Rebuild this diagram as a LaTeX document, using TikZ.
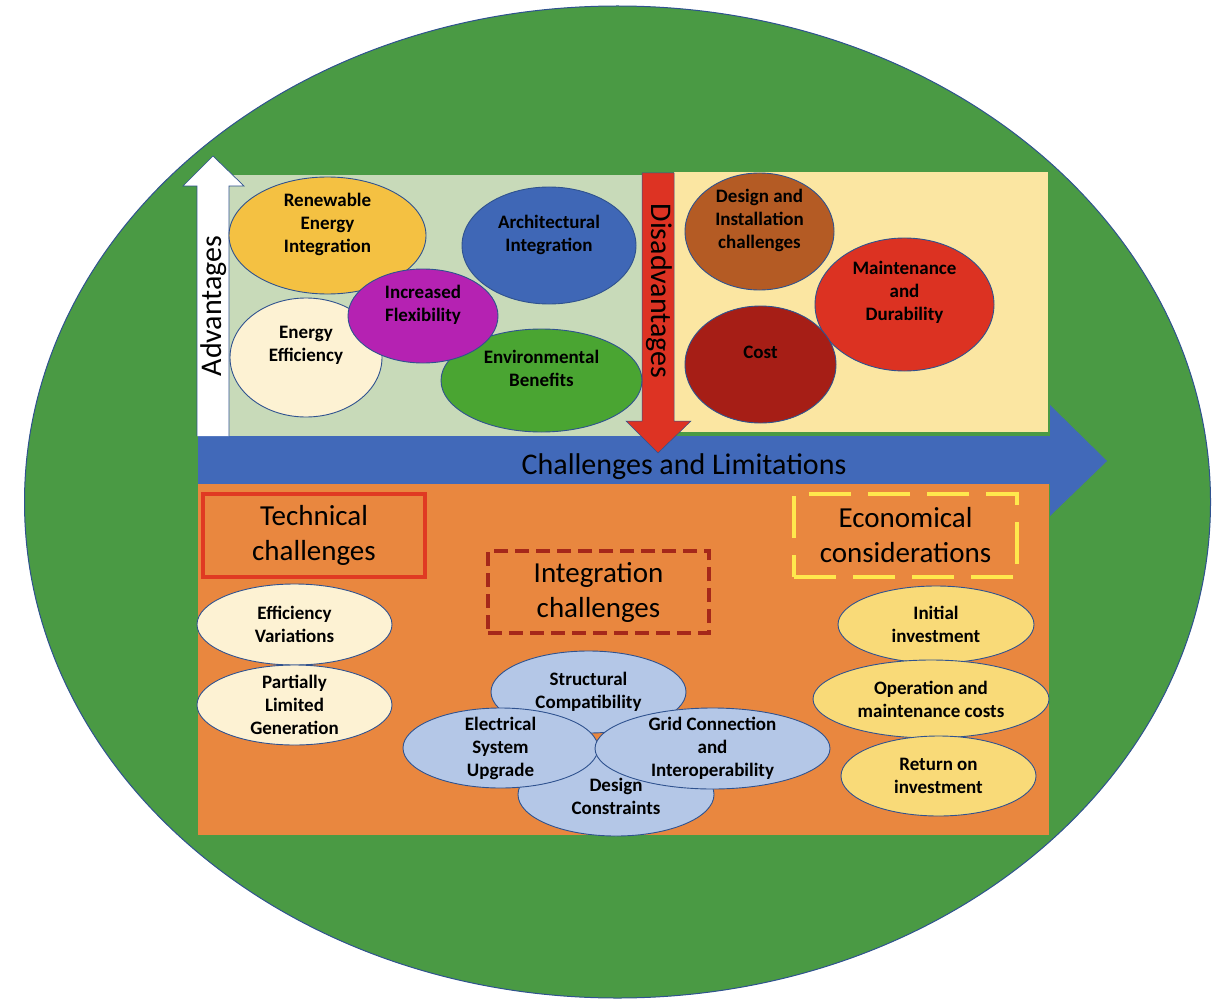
\documentclass[tikz,border=0pt]{standalone}
\usepackage{fontspec}
\setmainfont{Carlito}
\usetikzlibrary{shapes.geometric,calc}
\definecolor{bggreen}{RGB}{74,154,68}
\definecolor{outl}{RGB}{47,82,143}
\definecolor{advbox}{RGB}{200,218,185}
\definecolor{disbox}{RGB}{251,230,162}
\definecolor{bluearr}{RGB}{65,105,185}
\definecolor{orangebox}{RGB}{233,135,63}
\definecolor{redarr}{RGB}{221,51,35}
\definecolor{cRen}{RGB}{244,193,66}
\definecolor{cArch}{RGB}{63,103,182}
\definecolor{cFlex}{RGB}{181,34,178}
\definecolor{cCream}{RGB}{253,242,211}
\definecolor{cEnv}{RGB}{74,165,50}
\definecolor{cDesign}{RGB}{180,91,36}
\definecolor{cMaint}{RGB}{220,50,34}
\definecolor{cCost}{RGB}{166,30,22}
\definecolor{cInt}{RGB}{180,199,231}
\definecolor{cEco}{RGB}{249,218,120}
\definecolor{techred}{RGB}{224,58,34}
\definecolor{intred}{RGB}{165,40,26}
\definecolor{ecoyel}{RGB}{255,232,77}
\begin{document}
\begin{tikzpicture}[x=1pt,y=-1pt,
  ell/.style={ellipse,draw=outl,line width=0.9pt,inner sep=0pt},
  etxt/.style={align=center,font=\fontsize{19}{23}\selectfont\bfseries,text=black,inner sep=0pt},
  htxt/.style={align=center,font=\fontsize{29}{35}\selectfont,text=black,inner sep=0pt},
  atxt/.style={font=\fontsize{30}{36}\selectfont,text=black,inner sep=0pt}]
\useasboundingbox (0,0) rectangle (1230,1008);
% background ellipse
\node[ellipse,fill=bggreen,draw=outl,line width=1pt,minimum width=1186pt,minimum height=992pt,inner sep=0pt] (bg) at (617.5,502) {};
% advantage and disadvantage boxes
\node[draw=none,fill=advbox,minimum width=413pt,minimum height=261pt,inner sep=0pt,anchor=north west] (advb) at (229,175) {};
\node[draw=none,fill=disbox,minimum width=374pt,minimum height=260pt,inner sep=0pt,anchor=north west] (disb) at (674,172) {};
% blue arrow
\draw[fill=bluearr,draw=none] (198,436) -- (1050,436) -- (1050,405) -- (1107,461) -- (1050,516) -- (1050,484) -- (198,484) -- cycle;
\node[atxt] (chal) at (684,467) {Challenges and Limitations};
% orange box
\node[fill=orangebox,minimum width=851pt,minimum height=351pt,inner sep=0pt,anchor=north west] (orb) at (198,484) {};
% white arrow
\draw[fill=white,draw=outl,line width=0.7pt] (197,436) -- (197,186) -- (183,186) -- (213,156) -- (244,186) -- (229,186) -- (229,436);
\node[atxt,rotate=90] (advT) at (214,306) {Advantages};
% red arrow
\draw[fill=redarr,draw=outl,line width=0.5pt] (642,173) -- (674,173) -- (674,421) -- (691,421) -- (658,453) -- (626,421) -- (642,421) -- cycle;
\node[atxt,rotate=-90] (disT) at (659,291) {Disadvantages};
% advantages ellipses
\node[ell,fill=cRen,minimum width=197pt,minimum height=117pt] (ren) at (327.5,235.5) {};
\node[etxt] (renT) at ($(ren)+(0,-11)$) {Renewable\\Energy\\Integration};
\node[ell,fill=cArch,minimum width=174pt,minimum height=117pt] (arch) at (549,245.5) {};
\node[etxt] (archT) at ($(arch)+(0,-11)$) {Architectural\\Integration};
\node[ell,fill=cCream,minimum width=152pt,minimum height=119pt] (eff) at (306,357.5) {};
\node[etxt] (effT) at ($(eff)+(0,-12)$) {Energy\\Efficiency};
\node[ell,fill=cEnv,minimum width=201pt,minimum height=103pt] (env) at (541.5,380.5) {};
\node[etxt] (envT) at ($(env)+(0,-12)$) {Environmental\\Benefits};
\node[ell,fill=cFlex,minimum width=150pt,minimum height=94pt] (flex) at (423,316) {};
\node[etxt] (flexT) at ($(flex)+(0,-11)$) {Increased\\Flexibility};
% disadvantages ellipses
\node[ell,fill=cDesign,minimum width=149pt,minimum height=117pt] (des) at (759.5,231.5) {};
\node[etxt] (desT) at ($(des)+(0,-11)$) {Design and\\Installation\\challenges};
\node[ell,fill=cMaint,minimum width=179pt,minimum height=133pt] (mnt) at (904.5,304.5) {};
\node[etxt] (mntT) at ($(mnt)+(0,-12)$) {Maintenance\\and\\Durability};
\node[ell,fill=cCost,minimum width=151pt,minimum height=117pt] (cost) at (760.5,364.5) {};
\node[etxt] (costT) at ($(cost)+(0,-12)$) {Cost};
% heading boxes
\node[draw=techred,line width=4pt,minimum width=222pt,minimum height=83pt,inner sep=0pt] (tech) at (314,535.5) {};
\node[htxt] (techT) at (tech) {Technical\\challenges};
\node[draw=intred,line width=4pt,dash pattern=on 14pt off 7pt,minimum width=221pt,minimum height=82pt,inner sep=0pt] (integ) at (598.5,592) {};
\node[htxt] (integT) at (integ) {Integration\\challenges};
\node[draw=ecoyel,line width=4pt,dash pattern=on 42pt off 17pt,minimum width=223pt,minimum height=83pt,inner sep=0pt] (eco) at (905.5,535.5) {};
\node[htxt] (ecoT) at (eco) {Economical\\considerations};
% technical ellipses
\node[ell,fill=cCream,minimum width=195pt,minimum height=81pt] (effv) at (294.5,624.5) {};
\node[etxt] (effvT) at (effv) {Efficiency\\Variations};
\node[ell,fill=cCream,minimum width=195pt,minimum height=80pt] (plg) at (294.5,705) {};
\node[etxt] (plgT) at (plg) {Partially\\Limited\\Generation};
% integration ellipses
\node[ell,fill=cInt,minimum width=195pt,minimum height=82pt] (str) at (588.5,692) {};
\node[etxt] (strT) at (str) {Structural\\Compatibility};
\node[ell,fill=cInt,minimum width=196pt,minimum height=83pt] (dcon) at (616,794.5) {};
\node[ell,fill=cInt,minimum width=195pt,minimum height=80pt] (elec) at (500.5,748) {};
\node[etxt] (elecT) at (elec) {Electrical\\System\\Upgrade};
\node[ell,fill=cInt,minimum width=235pt,minimum height=81pt] (grid) at (712.5,748.5) {};
\node[etxt] (gridT) at (grid) {Grid Connection\\and\\Interoperability};
\node[etxt] (dconT) at ($(dcon)+(0,2)$) {Design\\Constraints};
% economical ellipses
\node[ell,fill=cEco,minimum width=196pt,minimum height=77pt] (ini) at (936,624.5) {};
\node[etxt] (iniT) at (ini) {Initial\\investment};
\node[ell,fill=cEco,minimum width=236pt,minimum height=78pt] (omc) at (931,699) {};
\node[etxt] (omcT) at (omc) {Operation and\\maintenance costs};
\node[ell,fill=cEco,minimum width=195pt,minimum height=80pt] (roi) at (938.5,776) {};
\node[etxt] (roiT) at (roi) {Return on\\investment};
\end{tikzpicture}
\end{document}
